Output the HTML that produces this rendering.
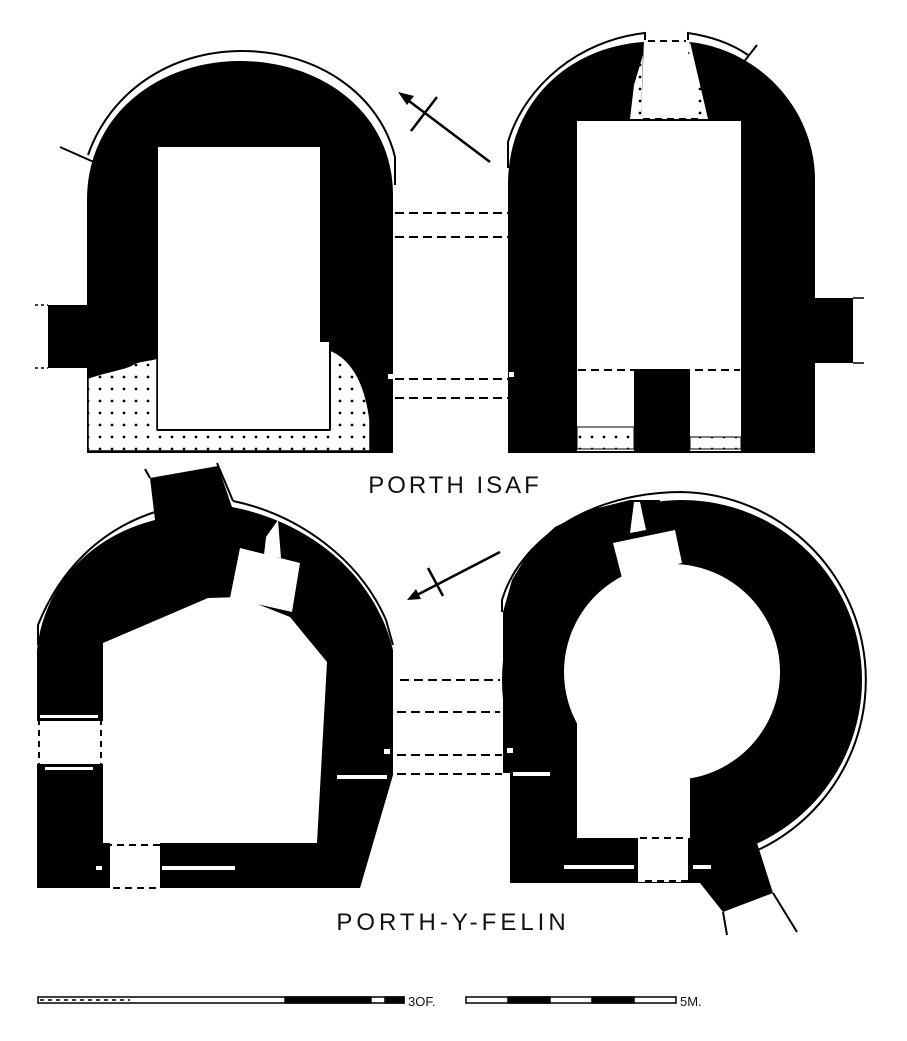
<!DOCTYPE html>
<html><head><meta charset="utf-8"><style>
html,body{margin:0;padding:0;background:#fff;}
svg{display:block;}
text{font-family:"Liberation Sans",sans-serif;fill:#111;}
</style></head><body>
<svg width="907" height="1041" viewBox="0 0 907 1041" xmlns="http://www.w3.org/2000/svg">
<defs>
<pattern id="dots" width="12" height="12" patternUnits="userSpaceOnUse">
<rect width="12" height="12" fill="#fff"/><circle cx="4" cy="5" r="1.4" fill="#000"/>
</pattern>
</defs>
<rect width="907" height="1041" fill="#fff"/>

<!-- ===== TOP LEFT (Porth Isaf 1) ===== -->
<path d="M88,155 C110,92 170,51 242,51 C318,51 380,95 395,157 V185" fill="none" stroke="#000" stroke-width="2"/>
<line x1="60" y1="147" x2="96" y2="163" stroke="#000" stroke-width="2"/>
<path d="M87,452 V200 C87,115 158,61 240,61 C322,61 393,113 393,195 V452 Z" fill="#000"/>
<rect x="48" y="305" width="40" height="63" fill="#000"/>
<line x1="35" y1="305" x2="48" y2="305" stroke="#000" stroke-width="1.5" stroke-dasharray="3,3"/>
<line x1="35" y1="368" x2="48" y2="368" stroke="#000" stroke-width="1.5" stroke-dasharray="3,3"/>
<path d="M88,378 C110,370 125,370 135,363 C145,360 152,360 157,358 L157,430 L330,430 L330,350 C350,358 365,380 370,420 L370,451 L88,451 Z" fill="url(#dots)" stroke="#000" stroke-width="1.5"/>
<rect x="158" y="147" width="162" height="283" fill="#fff"/>
<rect x="318" y="342" width="12" height="88" fill="#fff"/>
<line x1="158" y1="430" x2="330" y2="430" stroke="#000" stroke-width="2"/>
<line x1="330" y1="342" x2="330" y2="430" stroke="#000" stroke-width="2"/>
<line x1="87" y1="452" x2="393" y2="452" stroke="#000" stroke-width="2"/>

<!-- north arrow 1 -->
<line x1="490" y1="162" x2="405" y2="98" stroke="#000" stroke-width="2.5"/>
<polygon points="398,92 414,96 407,105" fill="#000"/>
<line x1="411" y1="131" x2="437" y2="97" stroke="#000" stroke-width="2.5"/>

<g stroke="#000" stroke-width="2" stroke-dasharray="9,5">
<line x1="395" y1="213" x2="508" y2="213"/>
<line x1="395" y1="237" x2="508" y2="237"/>
<line x1="395" y1="379" x2="508" y2="379"/>
<line x1="395" y1="398" x2="508" y2="398"/>
</g>
<rect x="388" y="374" width="5" height="5" fill="#fff"/>

<!-- ===== TOP RIGHT (Porth Isaf 2) ===== -->
<path d="M508,168 V142 C525,85 580,40 645,33 L645,42" fill="none" stroke="#000" stroke-width="2"/>
<path d="M688,42 V33 C715,37 735,46 748,55" fill="none" stroke="#000" stroke-width="2"/>
<line x1="743" y1="63" x2="757" y2="45" stroke="#000" stroke-width="2"/>
<path d="M508,452 V185 C508,105 565,48 643,42 L690,42 C760,50 815,110 815,180 V452 Z" fill="#000"/>
<rect x="815" y="298" width="38" height="65" fill="#000"/>
<line x1="853" y1="298" x2="864" y2="298" stroke="#000" stroke-width="1.5"/>
<line x1="853" y1="363" x2="864" y2="363" stroke="#000" stroke-width="1.5"/>
<polygon points="644,40 689,40 699,119 641,119" fill="#fff"/>
<polygon points="643,55 641,119 630,119 634,85" fill="url(#dots)"/>
<polygon points="690,42 708,119 699,119 688,55" fill="url(#dots)"/>
<line x1="648" y1="41" x2="686" y2="41" stroke="#000" stroke-width="2" stroke-dasharray="7,5"/>
<line x1="643" y1="119" x2="700" y2="119" stroke="#000" stroke-width="2" stroke-dasharray="7,5"/>
<rect x="577" y="121" width="164" height="330" fill="#fff"/>
<line x1="578" y1="370" x2="740" y2="370" stroke="#000" stroke-width="2" stroke-dasharray="8,5"/>
<rect x="634" y="369" width="56" height="83" fill="#000"/>
<rect x="577" y="427" width="57" height="22" fill="url(#dots)" stroke="#000" stroke-width="1"/>
<rect x="690" y="437" width="51" height="12" fill="url(#dots)" stroke="#000" stroke-width="1"/>
<line x1="508" y1="452" x2="815" y2="452" stroke="#000" stroke-width="2"/>
<rect x="509" y="372" width="5" height="5" fill="#fff"/>

<text x="455" y="493" font-size="24" text-anchor="middle" letter-spacing="3">PORTH ISAF</text>

<!-- ===== BOTTOM LEFT ===== -->
<path d="M38,645 V625 C60,570 100,530 155,512" fill="none" stroke="#000" stroke-width="2"/>
<path d="M233,501 C300,515 360,560 386,620 L393,645" fill="none" stroke="#000" stroke-width="2"/>
<path d="M217,463 L233,501" fill="none" stroke="#000" stroke-width="2"/>
<line x1="145" y1="469" x2="150" y2="478" stroke="#000" stroke-width="2"/>
<path d="M37,888 V650 C45,580 95,535 155,520 L150,478 L218,466 L232,507 C310,522 375,575 393,650 V775 L360,888 Z" fill="#000"/>
<polygon points="103,643 208,598 240,597 290,617 327,662 317,843 160,843 160,888 110,888 110,843 103,843" fill="#fff"/>
<line x1="160" y1="845" x2="105" y2="845" stroke="#000" stroke-width="2" stroke-dasharray="7,5"/>
<line x1="113" y1="888" x2="157" y2="888" stroke="#000" stroke-width="2" stroke-dasharray="7,5"/>
<polygon points="240,548 300,563 292,612 230,598" fill="#fff"/>
<polygon points="266,537 278,520 281,558 264,555" fill="#fff"/>
<rect x="37" y="719" width="66" height="47" fill="#fff"/>
<line x1="39" y1="719" x2="39" y2="766" stroke="#000" stroke-width="2" stroke-dasharray="6,5"/>
<line x1="101" y1="719" x2="101" y2="766" stroke="#000" stroke-width="2" stroke-dasharray="6,5"/>
<line x1="37" y1="720" x2="103" y2="720" stroke="#000" stroke-width="2"/>
<line x1="37" y1="765" x2="103" y2="765" stroke="#000" stroke-width="2"/>
<rect x="40" y="715" width="58" height="3" fill="#fff"/>
<rect x="45" y="767" width="48" height="3" fill="#fff"/>
<rect x="337" y="775" width="50" height="4" fill="#fff"/>
<rect x="162" y="866" width="73" height="4" fill="#fff"/>
<rect x="96" y="866" width="6" height="4" fill="#fff"/>
<rect x="384" y="749" width="6" height="5" fill="#fff"/>

<!-- north arrow 2 -->
<line x1="500" y1="552" x2="415" y2="596" stroke="#000" stroke-width="2.5"/>
<polygon points="407,600 416,589 421,599" fill="#000"/>
<line x1="428" y1="568" x2="443" y2="596" stroke="#000" stroke-width="2.5"/>

<g stroke="#000" stroke-width="2" stroke-dasharray="9,5">
<line x1="400" y1="680" x2="500" y2="680"/>
<line x1="397" y1="712" x2="500" y2="712"/>
<line x1="397" y1="755" x2="502" y2="755"/>
<line x1="397" y1="774" x2="502" y2="774"/>
</g>

<!-- ===== BOTTOM RIGHT ===== -->
<path d="M502,612 L502,600 C520,540 590,492 682,492 A188,188 0 0 1 758,850" fill="none" stroke="#000" stroke-width="2"/>
<circle cx="682" cy="680" r="180" fill="#000"/>
<polygon points="503,612 512,580 530,550 555,527 590,510 630,500 660,500 640,700 600,773 600,883 510,883 510,773 503,773" fill="#000"/>
<polygon points="688,855 757,843 773,893 723,912 700,883 688,883" fill="#000"/>
<rect x="600" y="840" width="110" height="43" fill="#000"/>
<line x1="723" y1="912" x2="727" y2="935" stroke="#000" stroke-width="2"/>
<line x1="773" y1="893" x2="797" y2="932" stroke="#000" stroke-width="2"/>
<circle cx="672" cy="672" r="108" fill="#fff"/>
<rect x="577" y="630" width="113" height="208" fill="#fff"/>
<rect x="638" y="836" width="50" height="46" fill="#fff"/>
<line x1="640" y1="838" x2="688" y2="838" stroke="#000" stroke-width="2" stroke-dasharray="7,5"/>
<line x1="645" y1="881" x2="688" y2="881" stroke="#000" stroke-width="2" stroke-dasharray="7,5"/>
<polygon points="613,543 675,530 682,563 622,578" fill="#fff"/>
<polygon points="634,502 640,502 646,530 630,533" fill="#fff"/>
<rect x="564" y="865" width="70" height="4" fill="#fff"/>
<rect x="693" y="865" width="18" height="4" fill="#fff"/>
<rect x="513" y="772" width="37" height="4" fill="#fff"/>
<rect x="507" y="748" width="6" height="5" fill="#fff"/>

<text x="453" y="930" font-size="24" text-anchor="middle" letter-spacing="4">PORTH-Y-FELIN</text>

<g stroke="#000" stroke-width="1.5">
<rect x="38" y="997" width="366" height="6" fill="#fff"/>
<rect x="285" y="997" width="86" height="6" fill="#000"/>
<rect x="385" y="997" width="19" height="6" fill="#000"/>
<rect x="466" y="997" width="210" height="6" fill="#fff"/>
<rect x="508" y="997" width="42" height="6" fill="#000"/>
<rect x="592" y="997" width="42" height="6" fill="#000"/>
</g>
<g stroke="#000" stroke-width="1.5" stroke-dasharray="4,4"><line x1="40" y1="1000" x2="130" y2="1000"/></g>
<text x="408" y="1006" font-size="13">3OF.</text>
<text x="680" y="1006" font-size="13">5M.</text>
</svg>
</body></html>
